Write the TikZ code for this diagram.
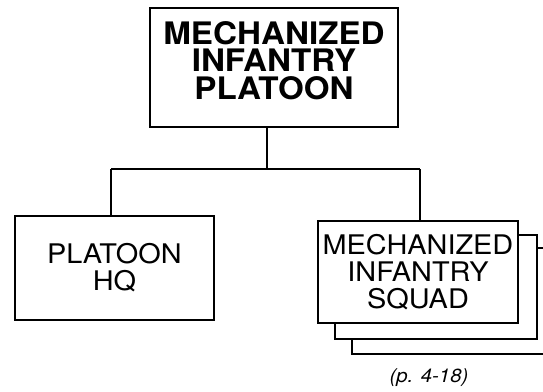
\documentclass[tikz,border=0pt]{standalone}
\usepackage{fontspec}
\setmainfont[FakeStretch=1.07]{TeX Gyre Heros}
\begin{document}
\begin{tikzpicture}[x=1pt,y=-1pt,
  box/.style={draw,line width=1.8pt,fill=white,align=center,inner sep=0pt},
  link/.style={line width=1.8pt},
  bigtxt/.style={font=\fontsize{31}{27.5}\selectfont\bfseries,align=center,inner sep=0pt},
  midtxt/.style={font=\fontsize{27}{27}\selectfont}]
\useasboundingbox (0,0) rectangle (543,391);
\clip (0,0) rectangle (543,391);
\node[box,minimum width=248pt,minimum height=119pt] (top) at (274,67.5) {};
\node[bigtxt] (toptext) at (274,60.5) {MECHANIZED\\INFANTRY\\PLATOON};
\node[box,midtxt,minimum width=199pt,minimum height=104pt] (hq) at (114.5,268) {PLATOON\\HQ};
\node[box,minimum width=203pt,minimum height=106pt] (sq3) at (453.5,301) {};
\node[box,minimum width=202pt,minimum height=104pt] (sq2) at (436,287) {};
\node[box,midtxt,minimum width=200pt,minimum height=102pt] (sq) at (418,272) {MECHANIZED\\INFANTRY\\SQUAD};
\coordinate (j) at (267,169);
\coordinate (jl) at (111,169);
\coordinate (jr) at (420,169);
\draw[link] (top.south -| j) -- (j);
\draw[link] (jl) -- (jr);
\draw[link] (jl) -- (jl |- hq.north);
\draw[link] (jr) -- (jr |- sq.north);
\node[font=\fontsize{19}{19}\selectfont\itshape] (cap) at (429,378) {(p. 4-18)};
\end{tikzpicture}
\end{document}
